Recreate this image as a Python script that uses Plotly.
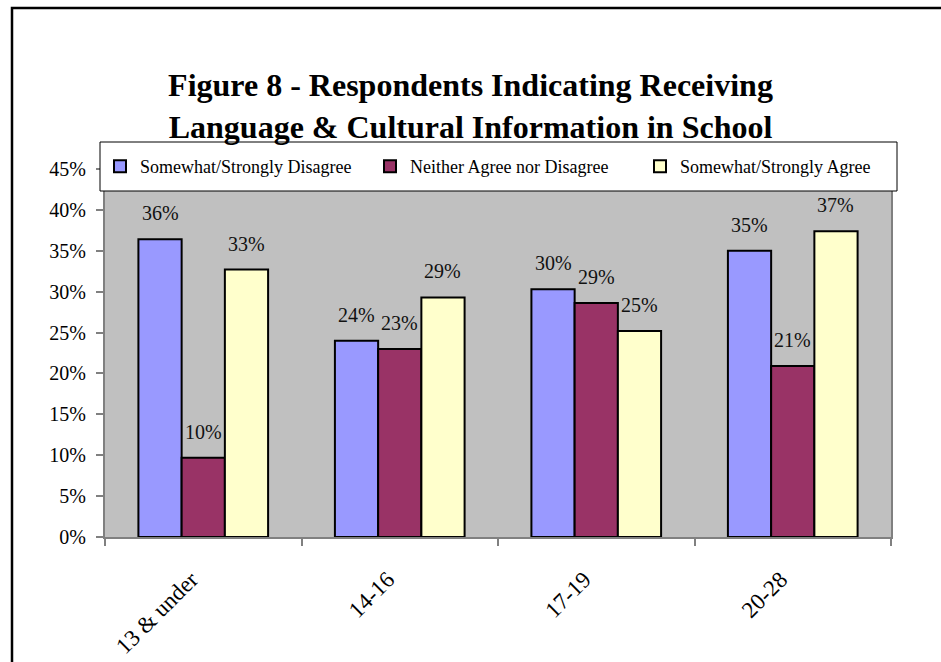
import plotly.graph_objects as go

# Survey results by age group
age_groups = ["13 & under", "14-16", "17-19", "20-28"]
series_names = [
    "Somewhat/Strongly Disagree",
    "Neither Agree nor Disagree",
    "Somewhat/Strongly Agree",
]
disagree = [0.364, 0.240, 0.303, 0.350]
neutral = [0.097, 0.230, 0.286, 0.209]
agree = [0.327, 0.293, 0.252, 0.374]
y_ticks = [0, 0.05, 0.10, 0.15, 0.20, 0.25, 0.30, 0.35, 0.40, 0.45]

colors = ["#9999FF", "#993366", "#FFFFCC"]
serif = "Liberation Serif, Times New Roman, serif"

# Plot-area pixel box inside the 941x662 page
W_PAGE, H_PAGE = 941, 662
L, R, T, B = 105, 891, 169, 537
BARGAP = 0.34


def px_x(x):
    return (x - L) / (R - L)


def px_y(y):
    return (B - y) / (B - T)


all_series = [disagree, neutral, agree]
n_series = len(all_series)
# width of one bar in pixels, from the category band and the gap setting
bar_px = (R - L) / len(age_groups) * (1 - BARGAP) / n_series

fig = go.Figure()
annotations = []
for i, (name, vals, col) in enumerate(zip(series_names, all_series, colors)):
    fig.add_trace(go.Bar(
        name=name,
        x=age_groups,
        y=vals,
        marker=dict(color=col, line=dict(color="black", width=2)),
    ))
    # value labels floating above each bar
    for cat, v in zip(age_groups, vals):
        annotations.append(dict(
            x=cat, y=v, xref="x", yref="y",
            text=f"{v:.0%}",
            showarrow=False,
            xanchor="center", yanchor="middle",
            xshift=(i - (n_series - 1) / 2) * bar_px,
            yshift=26,
            font=dict(family=serif, size=20, color="#111111"),
        ))

fig.update_layout(
    width=W_PAGE,
    height=H_PAGE,
    margin=dict(l=L, r=W_PAGE - R, t=T, b=H_PAGE - B, autoexpand=False),
    paper_bgcolor="white",
    plot_bgcolor="#C0C0C0",
    barmode="group",
    bargap=BARGAP,
    bargroupgap=0,
    title=dict(
        text="<b>Figure 8 - Respondents Indicating Receiving<br>Language &amp; Cultural Information in School</b>",
        font=dict(family=serif, size=32, color="black"),
        x=0.5,
        xanchor="center",
        y=1 - 96 / H_PAGE,
        yanchor="middle",
        yref="container",
    ),
    font=dict(family=serif, color="black"),
    legend=dict(
        orientation="h",
        x=px_x(100),
        xanchor="left",
        y=px_y(166.5),
        yanchor="middle",
        bgcolor="rgba(0,0,0,0)",
        borderwidth=0,
        font=dict(family=serif, size=18, color="black"),
        entrywidth=225,
        entrywidthmode="pixels",
        traceorder="normal",
    ),
    xaxis=dict(
        type="category",
        automargin=False,
        tickangle=-45,
        tickfont=dict(family=serif, size=23, color="black"),
        showline=True,
        linecolor="#808080",
        linewidth=2,
        mirror=True,
        ticks="outside",
        tickson="boundaries",
        ticklen=7,
        tickcolor="#808080",
        tickwidth=1.5,
        ticklabelstandoff=18,
        ticklabelshift=-12,
        showgrid=False,
        fixedrange=True,
    ),
    yaxis=dict(
        automargin=False,
        range=[0, 0.45],
        tickvals=y_ticks,
        tickformat=".0%",
        tickfont=dict(family=serif, size=20, color="black"),
        showline=True,
        linecolor="#808080",
        linewidth=2,
        mirror=True,
        ticks="outside",
        ticklen=7,
        tickcolor="#808080",
        tickwidth=1.5,
        showgrid=False,
        zeroline=False,
        ticklabelstandoff=6,
    ),
    annotations=annotations,
    shapes=[
        # chart frame
        dict(type="rect", xref="paper", yref="paper",
             x0=px_x(12), x1=px_x(960), y0=px_y(680), y1=px_y(8),
             line=dict(color="black", width=2.5), fillcolor="rgba(0,0,0,0)",
             layer="above"),
        # legend box
        dict(type="rect", xref="paper", yref="paper",
             x0=px_x(100), x1=px_x(897), y0=px_y(191), y1=px_y(142),
             line=dict(color="black", width=1), fillcolor="white",
             layer="above"),
    ],
    showlegend=True,
)

fig.write_html("out.html")
